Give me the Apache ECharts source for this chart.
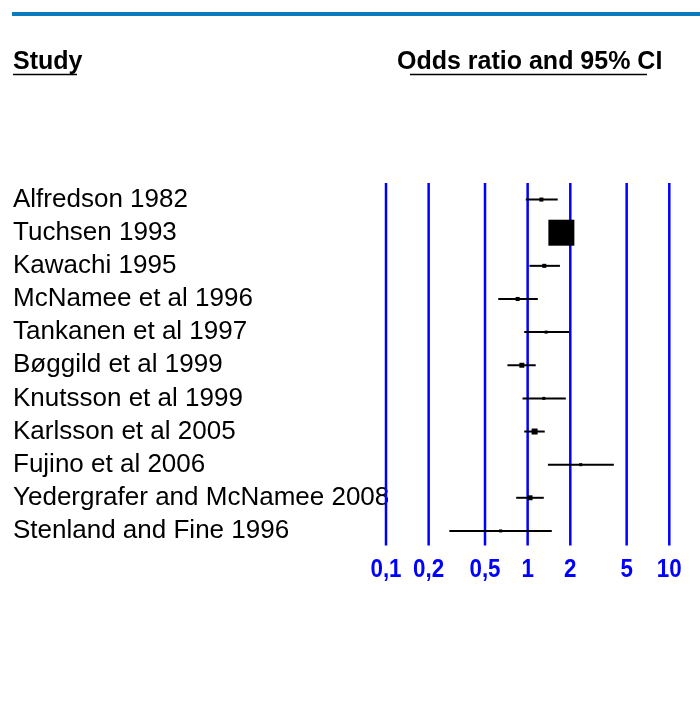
<!DOCTYPE html>
<html>
<head>
<meta charset="utf-8">
<script src="https://cdn.jsdelivr.net/npm/echarts@6/dist/echarts.min.js"></script>
<style>
html,body{margin:0;padding:0;background:#fff;}
#chart{width:700px;height:716px;}
</style>
</head>
<body>
<div id="chart"></div>
<script>
var studies = ['Alfredson 1982','Tuchsen 1993','Kawachi 1995','McNamee et al 1996','Tankanen et al 1997','Bøggild et al 1999','Knutsson et al 1999','Karlsson et al 2005','Fujino et al 2006','Yedergrafer and McNamee 2008','Stenland and Fine 1996'];
var oddsRatio = [1.25, 1.73, 1.31, 0.85, 1.35, 0.91, 1.30, 1.12, 2.37, 1.04, 0.645];
var ciLower  = [0.97, 1.55, 1.03, 0.62, 0.946, 0.72, 0.92, 0.946, 1.39, 0.83, 0.28];
var ciUpper  = [1.63, 1.95, 1.69, 1.18, 1.96, 1.14, 1.86, 1.32, 4.06, 1.30, 1.48];
var weights  = [1.6, 66, 1.6, 1.6, 0.9, 2.4, 0.9, 3.5, 0.9, 2.4, 0.9];
var tickValues = [0.1, 0.2, 0.5, 1, 2, 5, 10];
var tickLabels = ['0,1','0,2','0,5','1','2','5','10'];

var FONT = 'Liberation Sans';
var chart = echarts.init(document.getElementById('chart'));

var forestData = studies.map(function(s, i){ return [oddsRatio[i], i, ciLower[i], ciUpper[i], weights[i]]; });
var gridData = tickValues.map(function(v, i){ return [v, 0, i]; });

chart.setOption({
  animation: false,
  backgroundColor: '#fff',
  grid: {left: 386, right: 30.7, top: 183, height: 364.5, containLabel: false},
  xAxis: {type: 'log', logBase: 10, min: 0.1, max: 10, show: false, splitLine: {show: false}},
  yAxis: {
    type: 'category', data: studies, inverse: true,
    axisLine: {show: false}, axisTick: {show: false}, splitLine: {show: false},
    axisLabel: {interval: 0, align: 'left', margin: 373, fontSize: 26, color: '#000', fontFamily: FONT}
  },
  graphic: [
    {type: 'rect', shape: {x: 12, y: 12, width: 688, height: 4}, style: {fill: '#0b7bc0'}},
    {type: 'text', x: 13, y: 62.5, style: {text: 'Study', fontFamily: FONT, fontWeight: 'bold', fontSize: 25, fill: '#000', verticalAlign: 'middle', align: 'left'}},
    {type: 'line', shape: {x1: 13, y1: 74.5, x2: 77, y2: 74.5}, style: {stroke: '#000', lineWidth: 1.5}},
    {type: 'text', x: 397, y: 62.5, style: {text: 'Odds ratio and 95% CI', fontFamily: FONT, fontWeight: 'bold', fontSize: 25, fill: '#000', verticalAlign: 'middle', align: 'left'}},
    {type: 'line', shape: {x1: 410, y1: 74.5, x2: 647, y2: 74.5}, style: {stroke: '#000', lineWidth: 1.5}}
  ],
  series: [
    {
      type: 'custom', name: 'grid', clip: false, z: 1,
      data: gridData,
      renderItem: function(params, api){
        var x = api.coord([api.value(0), 0])[0];
        var cs = params.coordSys;
        return {type: 'group', children: [
          {type: 'line', shape: {x1: x, y1: cs.y, x2: x, y2: cs.y + cs.height - 2}, style: {stroke: '#0000ff', lineWidth: 2.5}},
          {type: 'text', x: x, y: 569.5, scaleX: 0.86, style: {text: tickLabels[api.value(2)], fontFamily: FONT, fontWeight: 'bold', fontSize: 26, fill: '#0000ff', align: 'center', verticalAlign: 'middle'}}
        ]};
      }
    },
    {
      type: 'custom', name: 'forest', clip: false, z: 3,
      data: forestData,
      renderItem: function(params, api){
        var i = api.value(1);
        var p = api.coord([api.value(0), i]);
        var l = api.coord([api.value(2), i]);
        var h = api.coord([api.value(3), i]);
        var s = 3.2 * Math.sqrt(api.value(4));
        return {type: 'group', children: [
          {type: 'line', shape: {x1: l[0], y1: p[1], x2: h[0], y2: p[1]}, style: {stroke: '#000', lineWidth: 2}},
          {type: 'rect', shape: {x: p[0] - s/2, y: p[1] - s/2, width: s, height: s}, style: {fill: '#000'}}
        ]};
      }
    }
  ]
});
</script>
</body>
</html>
